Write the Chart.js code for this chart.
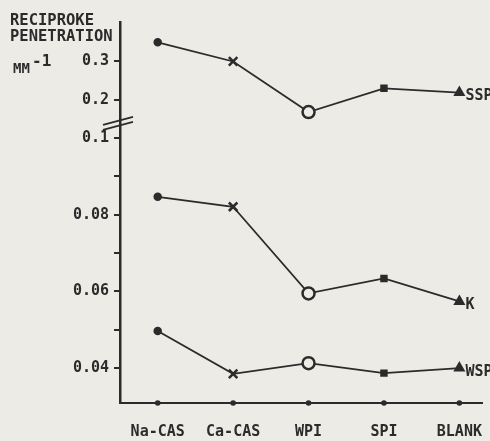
<!DOCTYPE html>
<html>
<head>
<meta charset="utf-8">
<script src="https://cdn.jsdelivr.net/npm/chart.js@4"></script>
<style>
  html, body { margin: 0; padding: 0; background: #ecebe6; }
  #wrap { width: 490px; height: 441px; }
</style>
</head>
<body>
<div id="wrap"><canvas id="chart"></canvas></div>
<script>
// data
const categories = ['Na-CAS', 'Ca-CAS', 'WPI', 'SPI', 'BLANK'];
const sspValues = [0.35, 0.30, 0.168, 0.23, 0.219];
const kValues = [0.0847, 0.0821, 0.0595, 0.0634, 0.0574];
const wspValues = [0.0497, 0.0385, 0.0413, 0.0387, 0.0400];
const seriesNames = ['SSP', 'K', 'WSP'];
const yTickValues = [0.04, 0.05, 0.06, 0.07, 0.08, 0.09, 0.1, 0.2, 0.3];
const yTickLabels = ['0.04', '', '0.06', '', '0.08', '', '0.1', '0.2', '0.3'];

const ink = '#2b2b2b';
const mono = '"DejaVu Sans Mono", monospace';

// broken axis: 0.01 per unit below 0.1, 0.1 per unit above the break
function toAxis(v) {
  return v <= 0.1 ? v * 100 : 11 + (v - 0.2) * 10;
}

const markerStyles = ['circle', 'crossRot', 'circle', 'rect', 'triangle'];
const markerRadius = [3, 6, 6, 3.5, 4.5];
const markerFill = [ink, ink, '#ecebe6', ink, ink];

function makeSet(name, values) {
  return {
    label: name,
    data: values.map((v, i) => ({ x: i, y: toAxis(v) })),
    borderColor: ink,
    borderWidth: 1.8,
    pointStyle: markerStyles,
    pointRadius: markerRadius,
    pointBackgroundColor: markerFill,
    pointBorderColor: ink,
    pointBorderWidth: 2.5,
    tension: 0
  };
}

const extras = {
  id: 'extras',
  beforeDraw(chart) {
    const c = chart.ctx;
    c.save();
    c.fillStyle = '#ecebe6';
    c.fillRect(0, 0, chart.width, chart.height);
    c.restore();
  },
  afterDraw(chart) {
    const c = chart.ctx;
    const x = chart.scales.x, y = chart.scales.y;
    c.save();
    c.fillStyle = ink;
    c.strokeStyle = ink;

    // axis title
    c.font = 'bold 15.5px ' + mono;
    c.textBaseline = 'alphabetic';
    c.textAlign = 'left';
    c.fillText('RECIPROKE', 10, 25);
    c.fillText('PENETRATION', 10, 41);
    c.font = 'bold 14px ' + mono;
    c.fillText('MM', 13, 73);
    c.font = 'bold 16px ' + mono;
    c.fillText('-1', 32, 66);

    // break marks on the y axis
    const by = y.getPixelForValue(10.5);
    c.lineWidth = 1.8;
    c.beginPath();
    c.moveTo(x.left - 17, by + 6); c.lineTo(x.left + 13, by - 2);
    c.moveTo(x.left - 17, by + 11); c.lineTo(x.left + 13, by + 3);
    c.stroke();

    // dots on the x axis at each category
    categories.forEach((cat, i) => {
      c.beginPath();
      c.arc(x.getPixelForValue(i), x.top, 2.8, 0, Math.PI * 2);
      c.fill();
    });

    // series names at the right end
    c.font = 'bold 15px ' + mono;
    c.textBaseline = 'middle';
    chart.data.datasets.forEach((ds, d) => {
      const meta = chart.getDatasetMeta(d);
      const pt = meta.data[meta.data.length - 1];
      c.fillText(seriesNames[d], pt.x + 6, pt.y + 4);
    });
    c.restore();
  }
};

new Chart(document.getElementById('chart'), {
  type: 'line',
  data: {
    datasets: [
      makeSet(seriesNames[0], sspValues),
      makeSet(seriesNames[1], kValues),
      makeSet(seriesNames[2], wspValues)
    ]
  },
  options: {
    responsive: true,
    maintainAspectRatio: false,
    animation: false,
    layout: { padding: { top: 22, right: 8, left: 0, bottom: 0 } },
    plugins: { legend: { display: false }, tooltip: { enabled: false } },
    scales: {
      x: {
        type: 'linear',
        min: -0.5,
        max: 4.3,
        afterFit(s) { s.height = 38; s.paddingLeft = 0; s.paddingRight = 0; },
        afterBuildTicks(s) { s.ticks = categories.map((c, i) => ({ value: i })); },
        grid: { display: true, drawOnChartArea: false, drawTicks: false },
        border: { display: true, color: ink, width: 2 },
        ticks: {
          padding: 20,
          maxRotation: 0,
          autoSkip: false,
          color: ink,
          font: { family: mono, size: 15, weight: 'bold' },
          callback: (v) => categories[v]
        }
      },
      y: {
        type: 'linear',
        min: 3.09,
        max: 13.03,
        afterFit(s) { s.width = 120; s.paddingTop = 0; s.paddingBottom = 0; },
        afterBuildTicks(s) { s.ticks = yTickValues.map(v => ({ value: toAxis(v) })); },
        grid: { drawOnChartArea: false, color: ink, lineWidth: 2, tickLength: 6 },
        border: { display: true, color: ink, width: 2.5 },
        ticks: {
          padding: 5,
          color: ink,
          font: { family: mono, size: 15, weight: 'bold' },
          callback: (v, i) => yTickLabels[i]
        }
      }
    }
  },
  plugins: [extras]
});
</script>
</body>
</html>
